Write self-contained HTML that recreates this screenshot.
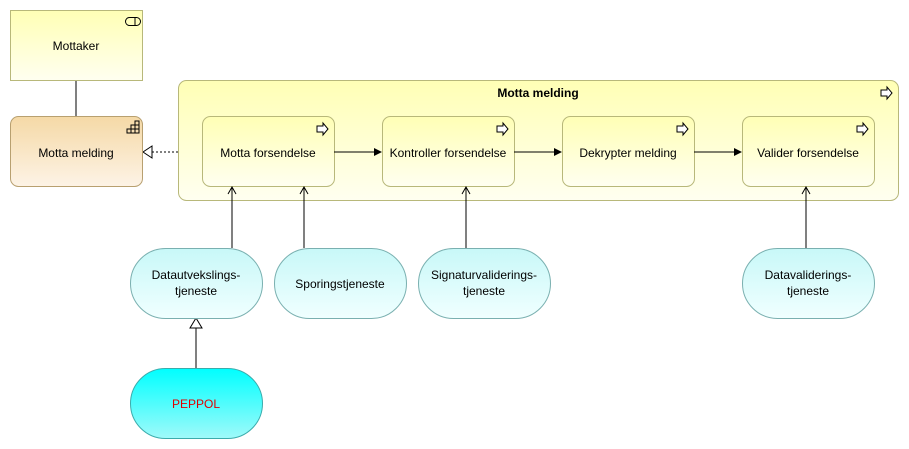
<!DOCTYPE html>
<html><head><meta charset="utf-8"><style>
html,body{margin:0;padding:0;background:#fff;width:909px;height:449px;overflow:hidden}
text{font-family:"Liberation Sans",sans-serif;font-size:12px;fill:#000}
</style></head><body>
<svg width="909" height="449" xmlns="http://www.w3.org/2000/svg">
<defs>
<linearGradient id="y" x1="0" y1="0" x2="0" y2="1"><stop offset="0" stop-color="#ffffb5"/><stop offset="1" stop-color="#fffff0"/></linearGradient>
<linearGradient id="o" x1="0" y1="0" x2="0" y2="1"><stop offset="0" stop-color="#f5d9a6"/><stop offset="1" stop-color="#fdf3e6"/></linearGradient>
<linearGradient id="c" x1="0" y1="0" x2="0" y2="1"><stop offset="0" stop-color="#c8f8f8"/><stop offset="1" stop-color="#f0ffff"/></linearGradient>
<linearGradient id="p" x1="0" y1="0" x2="0" y2="1"><stop offset="0" stop-color="#00ffff"/><stop offset="1" stop-color="#a0fafa"/></linearGradient>
<marker id="a" markerWidth="8" markerHeight="8" refX="7" refY="4" orient="auto" markerUnits="userSpaceOnUse"><path d="M0,0 L8,4 L0,8 z" fill="#000"/></marker>
<g id="arr"><path d="M0,-3 L6,-3 L6,-6 L11,0 L6,6 L6,3 L0,3 z" fill="#fff" stroke="#000" stroke-width="1"/></g>
</defs>
<line x1="76" y1="80" x2="76" y2="116" stroke="#000"/>
<line x1="178" y1="152" x2="146" y2="152" stroke="#000" stroke-dasharray="2,2"/>
<path d="M152,146 L143,152 L152,158 z" fill="#fff" stroke="#000"/>
<rect x="10.5" y="10.5" width="132" height="70" fill="url(#y)" stroke="#b8b87a"/>
<rect x="125.5" y="17.5" width="15" height="8" rx="4" fill="none" stroke="#000"/>
<line x1="135" y1="17.5" x2="135" y2="25.5" stroke="#000"/>
<text x="76" y="50" text-anchor="middle">Mottaker</text>
<rect x="10.5" y="116.5" width="132" height="70" rx="8" fill="url(#o)" stroke="#b8a070"/>
<g fill="none" stroke="#000" stroke-width="1"><path d="M127,133h12v-12h-4v4h-4v4h-4z M131,129v4 M135,125v8 M131,129h8 M135,125h4"/></g>
<text x="76" y="157" text-anchor="middle">Motta melding</text>
<rect x="178.5" y="80.5" width="720" height="120" rx="8" fill="url(#y)" stroke="#b8b87a"/>
<text x="538" y="97" text-anchor="middle" font-weight="bold">Motta melding</text>
<use href="#arr" x="881" y="93"/>
<g>
<rect x="202.5" y="116.5" width="132" height="70" rx="8" fill="url(#y)" stroke="#b8b87a"/><use href="#arr" x="317" y="129"/><text x="268" y="157" text-anchor="middle">Motta forsendelse</text>
<rect x="382.5" y="116.5" width="132" height="70" rx="8" fill="url(#y)" stroke="#b8b87a"/><use href="#arr" x="497" y="129"/><text x="448" y="157" text-anchor="middle">Kontroller forsendelse</text>
<rect x="562.5" y="116.5" width="132" height="70" rx="8" fill="url(#y)" stroke="#b8b87a"/><use href="#arr" x="677" y="129"/><text x="628" y="157" text-anchor="middle">Dekrypter melding</text>
<rect x="742.5" y="116.5" width="132" height="70" rx="8" fill="url(#y)" stroke="#b8b87a"/><use href="#arr" x="857" y="129"/><text x="808" y="157" text-anchor="middle">Valider forsendelse</text>
</g>
<g stroke="#000" marker-end="url(#a)">
<line x1="334" y1="152" x2="381" y2="152"/>
<line x1="514" y1="152" x2="561" y2="152"/>
<line x1="694" y1="152" x2="741" y2="152"/>
</g>
<g stroke="#000" fill="none">
<line x1="232" y1="248" x2="232" y2="187"/><path d="M228,194 L232,187 L236,194"/>
<line x1="304" y1="248" x2="304" y2="187"/><path d="M300,194 L304,187 L308,194"/>
<line x1="466" y1="248" x2="466" y2="187"/><path d="M462,194 L466,187 L470,194"/>
<line x1="806" y1="248" x2="806" y2="187"/><path d="M802,194 L806,187 L810,194"/>
</g>
<line x1="196" y1="368" x2="196" y2="326" stroke="#000"/>
<path d="M196,318 L190,328 L202,328 z" fill="#fff" stroke="#000"/>
<rect x="130.5" y="248.5" width="132" height="70" rx="35" fill="url(#c)" stroke="#7ab0b0"/>
<text x="196" y="279" text-anchor="middle">Datautvekslings-</text><text x="196" y="295" text-anchor="middle">tjeneste</text>
<rect x="274.5" y="248.5" width="132" height="70" rx="35" fill="url(#c)" stroke="#7ab0b0"/>
<text x="340" y="288" text-anchor="middle">Sporingstjeneste</text>
<rect x="418.5" y="248.5" width="132" height="70" rx="35" fill="url(#c)" stroke="#7ab0b0"/>
<text x="484" y="279" text-anchor="middle">Signaturvaliderings-</text><text x="484" y="295" text-anchor="middle">tjeneste</text>
<rect x="742.5" y="248.5" width="132" height="70" rx="35" fill="url(#c)" stroke="#7ab0b0"/>
<text x="808" y="279" text-anchor="middle">Datavaliderings-</text><text x="808" y="295" text-anchor="middle">tjeneste</text>
<rect x="130.5" y="368.5" width="132" height="70" rx="35" fill="url(#p)" stroke="#3aacac"/>
<text x="196" y="408" text-anchor="middle" style="fill:#e00000">PEPPOL</text>
</svg>
</body></html>
